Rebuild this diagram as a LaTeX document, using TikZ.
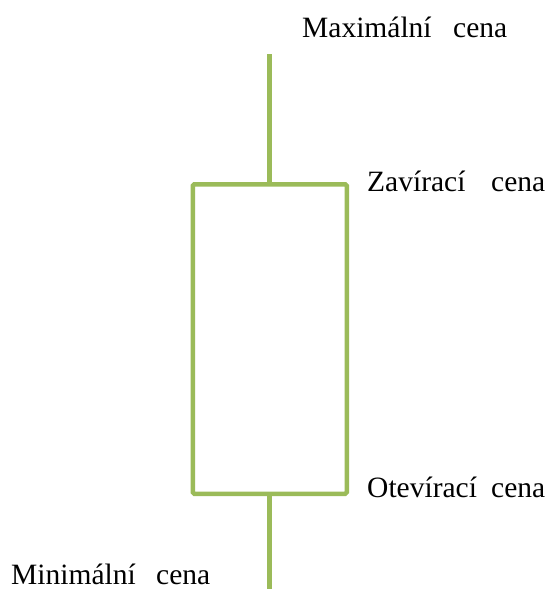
\documentclass[tikz,border=0pt]{standalone}
\usepackage{fontspec}
\setmainfont{Liberation Serif}
\definecolor{candle}{HTML}{9BBB59}
\begin{document}
\begin{tikzpicture}[x=1pt,y=-1pt,
  wick/.style={draw=candle,line width=5pt},
  body/.style={draw=candle,line width=4.5pt,rounded corners=1.5pt},
  lbl/.style={inner sep=0pt,anchor=base west,font=\fontsize{29.5}{31}\selectfont}]
\useasboundingbox (0,0) rectangle (554,589);
\coordinate (topw) at (269,54);
\coordinate (botw) at (269,589);
\node[body,minimum width=154pt,minimum height=309.5pt,inner sep=0pt,anchor=north west] (box) at (190.5,182) {};
\draw[wick] (topw) -- (box.north -| topw);
\draw[wick] (box.south -| botw) -- (botw);
\node[lbl] (max) at (302,37) {\makebox[205pt][s]{Maximální cena}};
\node[lbl] (close) at (367,191) {\makebox[178pt][s]{Zavírací cena}};
\node[lbl] (open) at (367,497) {\makebox[178pt][s]{Otevírací cena}};
\node[lbl] (min) at (11,584) {\makebox[199pt][s]{Minimální cena}};
\end{tikzpicture}
\end{document}
